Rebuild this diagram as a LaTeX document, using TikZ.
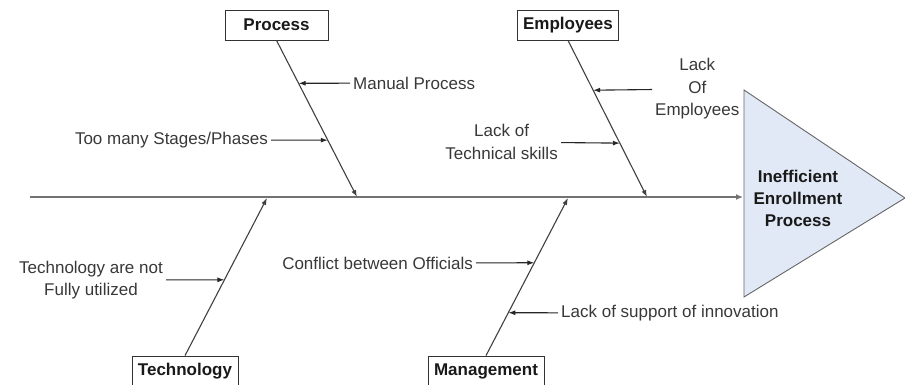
\documentclass[tikz,border=0pt]{standalone}
\usepackage{fontspec}
\setmainfont{Liberation Sans}
\usetikzlibrary{calc,arrows.meta}
\definecolor{effectfill}{RGB}{226,233,246}
\tikzset{
	bonebox/.style={draw=black!80, line width=0.8pt, fill=white, text=black!90, font=\fontsize{17}{21}\selectfont\bfseries, minimum height=30pt, inner xsep=6pt},
	cause/.style={text=black!78, font=\fontsize{17}{22.5}\selectfont, align=center, inner sep=3pt},
	bone/.style={draw=black!75, line width=1.1pt, -{Latex[length=7pt,width=5pt]}},
	causearr/.style={draw=black!85, line width=1.1pt, -{Latex[length=7pt,width=5pt]}},
	spine/.style={draw=black!55, line width=2pt, -{Latex[length=7pt,width=6pt]}}
}

\begin{document}
\begin{tikzpicture}[x=1pt, y=-1pt]
			%%%%% START %%%%%
			\useasboundingbox (0, 0) rectangle (905, 385);
			
			% head of the fish
			\draw[fill=effectfill, draw=black!60, line width=0.9pt] (744, 90) -- (905, 198) -- (744, 297) -- cycle;
			\node[font=\fontsize{17}{22}\selectfont\bfseries, text=black!90, align=center] (effect) at (798, 198) {Inefficient\\Enrollment\\Process};
			
			% spine
			\coordinate (tail) at (30, 197);
			\coordinate (head) at (743, 197);
			\draw[spine] (tail) -- (head);
			
			% category boxes
			\node[bonebox, minimum width=103pt] (proc) at (276.5, 25) {Process};
			\node[bonebox] (empl) at (568, 25) {Employees};
			\node[bonebox] (tech) at (185, 371) {Technology};
			\node[bonebox] (mgmt) at (486, 371) {Management};
			
			% bones
			\coordinate (p1) at (357, 197);
			\coordinate (e1) at (647, 197);
			\coordinate (t1) at (267, 198);
			\coordinate (m1) at (568, 198);
			\draw[bone] (proc.south) -- (p1);
			\draw[bone] (empl.south) -- (e1);
			\draw[bone] (tech.north) -- (t1);
			\draw[bone] (mgmt.north) -- (m1);
			
			% points on the bones
			\coordinate (pa) at ($(proc.south)!0.274!(p1)$);
			\coordinate (pb) at ($(proc.south)!0.637!(p1)$);
			\coordinate (ea) at ($(empl.south)!0.318!(e1)$);
			\coordinate (eb) at ($(empl.south)!0.656!(e1)$);
			\coordinate (ta) at ($(tech.north)!0.481!(t1)$);
			\coordinate (ma) at ($(mgmt.north)!0.589!(m1)$);
			\coordinate (mb) at ($(mgmt.north)!0.272!(m1)$);
			
			% causes
			\node[cause, anchor=west] (manual) at (350, 83) {Manual Process};
			\node[cause, anchor=east] (stages) at (271, 140) {Too many Stages/Phases};
			\node[cause, anchor=west] (lackemp) at (652, 89) {Lack\\Of\\Employees};
			\node[cause, anchor=east] (skills) at (561, 142) {Lack of\\Technical skills};
			\node[cause, anchor=east] (techuse) at (166, 280) {Technology are not\\Fully utilized};
			\node[cause, anchor=east] (conflict) at (476, 263) {Conflict between Officials};
			\node[cause, anchor=west] (support) at (558, 313) {Lack of support of innovation};
			
			\draw[causearr] (manual) -- (pa);
			\draw[causearr] (stages) -- (pb);
			\draw[causearr] (lackemp) -- (ea);
			\draw[causearr] (skills) -- (eb);
			\draw[causearr] (techuse) -- (ta);
			\draw[causearr] (conflict) -- (ma);
			\draw[causearr] (support) -- (mb);
			
			%%%%% END %%%%%
\end{tikzpicture}
\end{document}
